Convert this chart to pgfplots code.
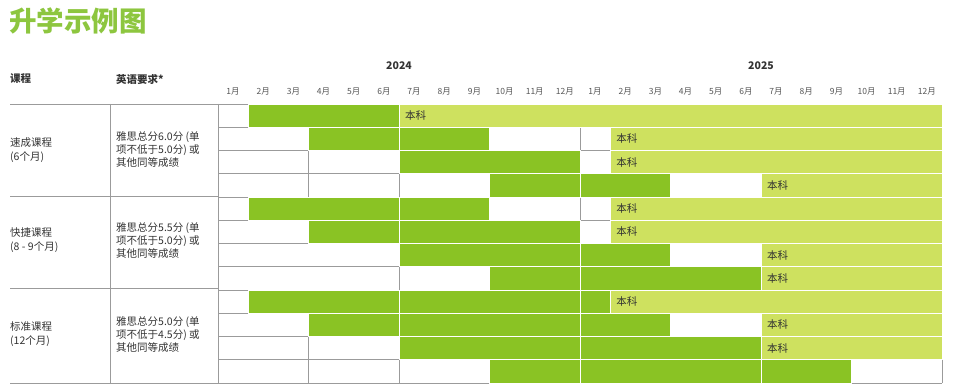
\documentclass[border=0pt]{standalone}
\usepackage{fontspec}
\setmainfont{Noto Sans CJK SC}
\usepackage{pgfplots}
\pgfplotsset{compat=1.18}
\usepackage{pgfplotstable}
\definecolor{dk}{HTML}{8AC324}
\definecolor{lt}{HTML}{CEE15F}
\definecolor{tg}{HTML}{8DC63F}
\definecolor{gl}{HTML}{9B9B9B}
\definecolor{tx}{HTML}{333333}
\definecolor{mt}{HTML}{555555}

% row, white offset, dark segments (split at 6/12/18), white gap, light (本科)
\pgfplotstableread{
row a d1 d2 d3 g l
1  1 5 0 0 0 18
2  3 3 3 0 4 11
3  6 6 0 0 1 11
4  9 3 3 0 3 6
5  1 5 3 0 4 11
6  3 3 6 0 1 11
7  6 6 3 0 3 6
8  9 3 6 0 0 6
9  1 5 6 1 0 11
10 3 3 6 3 3 6
11 6 6 6 0 0 6
12 9 3 6 3 3 0
}\plan

\tikzset{bk/.style={anchor=west, text=tx, inner sep=0pt, font=\fontsize{10.5}{13}\selectfont}}

\begin{document}
\begin{tikzpicture}[x=1pt,y=1pt]
\path[use as bounding box] (0,0) rectangle (953,388);
% title
\node[anchor=west, text=tg, inner sep=0pt, font=\fontsize{27.5}{30}\selectfont\bfseries] at (9,367) {升学示例图};
% headers
\node[anchor=west, text=tx, inner sep=0pt, font=\fontsize{10.5}{13}\selectfont\bfseries] at (10,309) {课程};
\node[anchor=west, text=tx, inner sep=0pt, font=\fontsize{10.5}{13}\selectfont\bfseries] at (116,309) {英语要求*};
\node[text=tx, inner sep=0pt, font=\fontsize{10.5}{13}\selectfont\bfseries] at (399,322) {2024};
\node[text=tx, inner sep=0pt, font=\fontsize{10.5}{13}\selectfont\bfseries] at (761,322) {2025};
\foreach \m [count=\i from 0] in {1,2,3,4,5,6,7,8,9,10,11,12,1,2,3,4,5,6,7,8,9,10,11,12}{
  \node[text=mt, inner sep=0pt, font=\fontsize{8.5}{10}\selectfont] at ({218+(\i+0.5)*30.1667},296) {\m 月};
}
% left table lines
\draw[gl, line width=0.8pt] (10,284)--(218,284);
\draw[gl, line width=0.8pt] (10,192)--(218,192);
\draw[gl, line width=0.8pt] (10,100)--(218,100);
\draw[gl, line width=0.8pt] (10,5)--(218,5);
\draw[gl, line width=0.8pt] (110,284)--(110,5);
\draw[gl, line width=0.8pt] (218,284)--(218,5);
% grid lines under the bars
\foreach \k in {0,...,12}{
  \draw[gl, line width=0.8pt] (218,{284-23.25*\k}) -- (942,{284-23.25*\k});
}
\draw[gl, line width=0.8pt] (308.5,237.5) -- (308.5,191);
\draw[gl, line width=0.8pt] (308.5,51.5) -- (308.5,5);
\draw[gl, line width=0.8pt] (399,214.25) -- (399,191);
\draw[gl, line width=0.8pt] (399,121.25) -- (399,98);
\draw[gl, line width=0.8pt] (399,28.25) -- (399,5);
\draw[gl, line width=0.8pt] (580,260.75) -- (580,237.5);
\draw[gl, line width=0.8pt] (580,191) -- (580,167.75);
% row labels
\node[anchor=west, align=left, text=tx, inner sep=0pt, font=\fontsize{10.5}{14}\selectfont] at (10,238) {速成课程\\(6个月)};
\node[anchor=west, align=left, text=tx, inner sep=0pt, font=\fontsize{10.5}{14}\selectfont] at (10,148) {快捷课程\\(8 - 9个月)};
\node[anchor=west, align=left, text=tx, inner sep=0pt, font=\fontsize{10.5}{14}\selectfont] at (10,54) {标准课程\\(12个月)};
\node[anchor=west, align=left, text=tx, inner sep=0pt, font=\fontsize{10.5}{13}\selectfont] at (116,238) {雅思总分6.0分 (单\\项不低于5.0分) 或\\其他同等成绩};
\node[anchor=west, align=left, text=tx, inner sep=0pt, font=\fontsize{10.5}{13}\selectfont] at (116,147) {雅思总分5.5分 (单\\项不低于5.0分) 或\\其他同等成绩};
\node[anchor=west, align=left, text=tx, inner sep=0pt, font=\fontsize{10.5}{13}\selectfont] at (116,53) {雅思总分5.0分 (单\\项不低于4.5分) 或\\其他同等成绩};

\begin{axis}[
  at={(218pt,5pt)}, anchor=south west,
  scale only axis, width=724pt, height=279pt,
  xmin=0, xmax=24, ymin=0.5, ymax=12.5, y dir=reverse,
  hide axis, clip=false,
  xbar stacked, bar width=1,
]
\addplot[draw=none, fill=none] table[x=a, y=row] {\plan};
\addplot[fill=dk, draw=white, line width=1pt] table[x=d1, y=row] {\plan};
\addplot[fill=dk, draw=white, line width=1pt] table[x=d2, y=row] {\plan};
\addplot[fill=dk, draw=white, line width=1pt] table[x=d3, y=row] {\plan};
\addplot[draw=none, fill=none] table[x=g, y=row] {\plan};
\addplot[fill=lt, draw=white, line width=1pt] table[x=l, y=row] {\plan};
\end{axis}

\draw[gl, line width=0.8pt] (942,28.25) -- (942,5);
\draw[gl, line width=0.8pt] (851.5,5) -- (942,5);

\node[bk] at (405,272.4) {本科};
\node[bk] at (616.2,249.1) {本科};
\node[bk] at (616.2,225.9) {本科};
\node[bk] at (767,202.6) {本科};
\node[bk] at (616.2,179.4) {本科};
\node[bk] at (616.2,156.1) {本科};
\node[bk] at (767,132.9) {本科};
\node[bk] at (767,109.6) {本科};
\node[bk] at (616.2,86.4) {本科};
\node[bk] at (767,63.1) {本科};
\node[bk] at (767,39.9) {本科};
\end{tikzpicture}
\end{document}
